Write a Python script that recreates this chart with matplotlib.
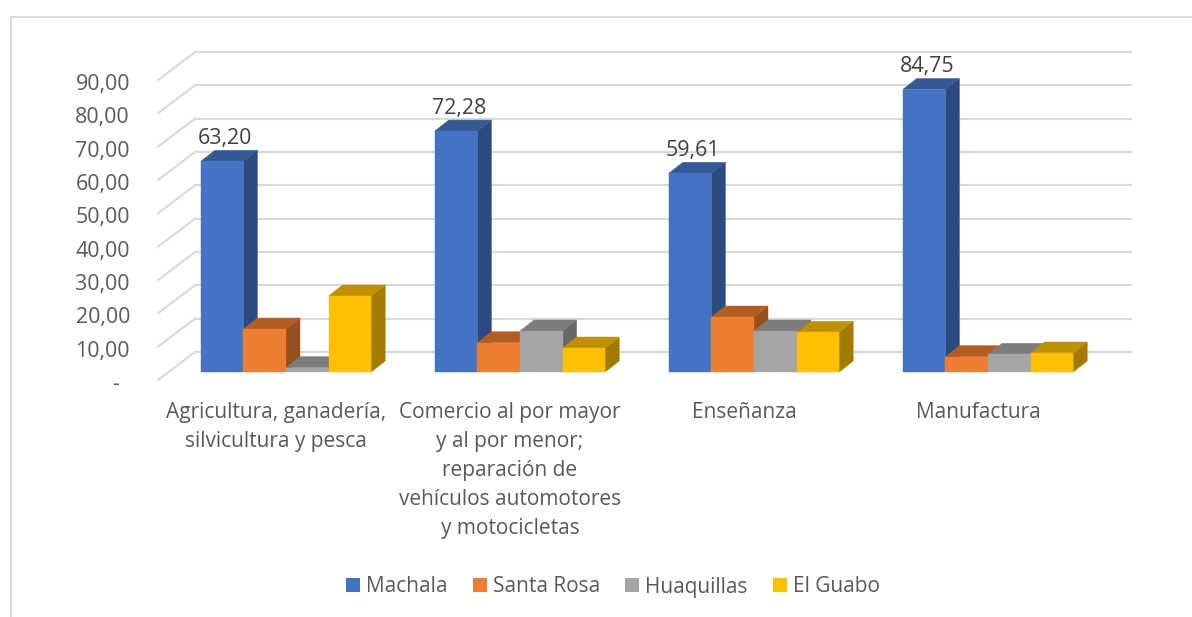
import matplotlib
matplotlib.use("Agg")
import matplotlib.pyplot as plt
from matplotlib.patches import Polygon, Patch
from matplotlib.lines import Line2D

categories = ["Agricultura, ganadería,\nsilvicultura y pesca",
              "Comercio al por mayor\ny al por menor;\nreparación de\nvehículos automotores\ny motocicletas",
              "Enseñanza", "Manufactura"]
machala = [63.20, 72.28, 59.61, 84.75]
santa_rosa = [12.9, 8.8, 16.5, 4.6]
huaquillas = [1.3, 12.3, 12.3, 5.3]
el_guabo = [22.8, 7.2, 11.9, 5.7]
series_names = ["Machala", "Santa Rosa", "Huaquillas", "El Guabo"]
y_ticks = [0, 10, 20, 30, 40, 50, 60, 70, 80, 90]
y_labels = ["-", "10,00", "20,00", "30,00", "40,00", "50,00", "60,00", "70,00", "80,00", "90,00"]
label_texts = ["63,20", "72,28", "59,61", "84,75"]

FRONT = ["#4472C4", "#ED7D31", "#A5A5A5", "#FFC000"]
TOP = ["#335A96", "#B35D22", "#7C7C7C", "#BF9000"]
SIDE = ["#2A4A80", "#96501E", "#676767", "#A37B00"]
FONT = "Open Sans"

W, H = 1192, 617
fig = plt.figure(figsize=(W / 100, H / 100), dpi=100, facecolor="white")
L, R, BASE, TOPPX = 169, 1105, 372, 72
ax = fig.add_axes([L / W, 1 - BASE / H, (R - L) / W, (BASE - TOPPX) / H])
ax.set_xlim(-0.5, 3.5)
ax.set_ylim(0, 90)
ax.axis("off")

xu = (R - L) / 4      # px per category
yu = (BASE - TOPPX) / 90  # px per value unit
def dx(px): return px / xu
def dy(px): return px / yu

# Chart frame: only the left and top edges show in the crop
for xs, ys in [((11, 11), (617, 17)), ((11, 1192), (17, 17))]:
    fig.add_artist(Line2D([x / W for x in xs], [1 - y / H for y in ys], color="#D9D9D9", lw=1.4))

# Walls: slanted side segments and back gridlines
for v in y_ticks:
    ax.plot([-0.5 - dx(11), -0.5 + dx(26)], [v - dy(8), v + dy(20)], color="#D9D9D9", lw=1.5, clip_on=False, zorder=1)
    ax.plot([-0.5 + dx(26), 3.5 + dx(26)], [v + dy(20), v + dy(20)], color="#D9D9D9", lw=1.5, clip_on=False, zorder=1)

# 3D bars
bw = 42.6 / xu
ddx, ddy = dx(14), dy(11)
z = 2
for i in range(len(categories)):
    for j, vals in enumerate([machala, santa_rosa, huaquillas, el_guabo]):
        x0 = i - 2 * bw + j * bw
        v = vals[i]
        x1 = x0 + bw
        ax.add_patch(Polygon([(x1, 0), (x1 + ddx, ddy), (x1 + ddx, v + ddy), (x1, v)], fc=SIDE[j], ec=SIDE[j], lw=0.3, clip_on=False, zorder=z))
        ax.add_patch(Polygon([(x0, v), (x0 + ddx, v + ddy), (x1 + ddx, v + ddy), (x1, v)], fc=TOP[j], ec=TOP[j], lw=0.3, clip_on=False, zorder=z))
        ax.add_patch(Polygon([(x0, 0), (x1, 0), (x1, v), (x0, v)], fc=FRONT[j], ec=FRONT[j], lw=0.3, clip_on=False, zorder=z + 0.5))
        z += 1

# Value labels
for i, (v, t) in enumerate(zip(machala, label_texts)):
    x = i - 2 * bw + bw / 2 + dx(3)
    ax.text(x, v + dy(23), t, ha="center", va="center", fontsize=15.4, color="#404040", family=FONT, zorder=50)

# Y tick labels
for v, t in zip(y_ticks, y_labels):
    xpos = -0.5 - dx(39) if t != "-" else -0.5 - dx(50)
    ax.text(xpos, v - dy(12.5), t, ha="right", va="center", fontsize=15.4, color="#595959", family=FONT, clip_on=False)

# Category labels
for i, c in enumerate(categories):
    ax.text(i - dx(10), -dy(30), c, ha="center", va="top", fontsize=15.0, color="#595959", family=FONT,
            linespacing=1.5, clip_on=False)

handles = [Patch(fc=c, ec="none", label=n) for c, n in zip(FRONT, series_names)]
fig.legend(handles=handles, loc="center", bbox_to_anchor=(613 / W, 1 - 587 / H), ncol=4, frameon=False,
           prop={"family": FONT, "size": 15}, labelcolor="#595959", handlelength=0.67, handleheight=0.67,
           handletextpad=0.3, columnspacing=1.2, borderpad=0, borderaxespad=0)

fig.savefig("out.png", dpi=100)
